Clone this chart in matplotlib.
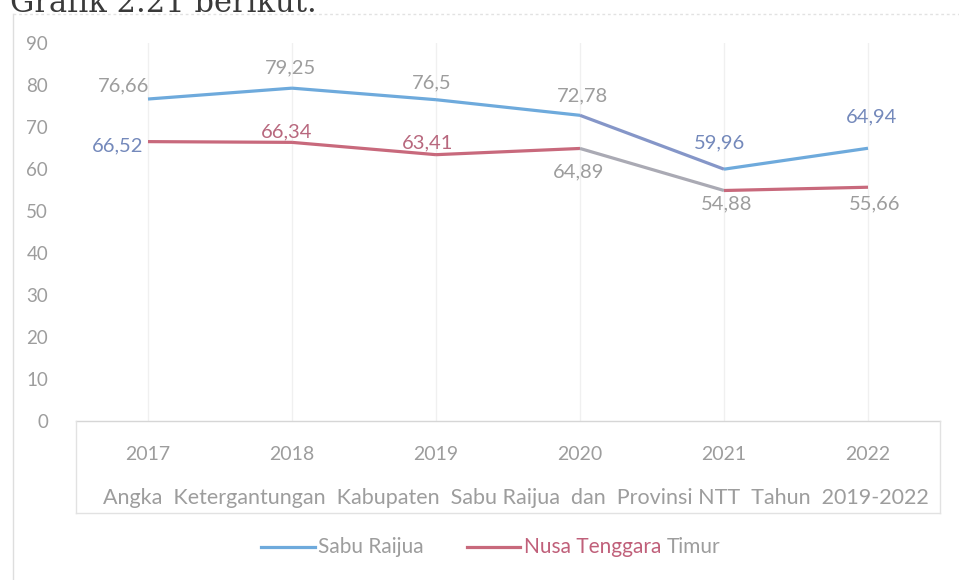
import matplotlib
matplotlib.use("Agg")
import matplotlib.pyplot as plt
from matplotlib.lines import Line2D

# ---- data ----
years = ["2017", "2018", "2019", "2020", "2021", "2022"]
sabu_raijua = [76.66, 79.25, 76.5, 72.78, 59.96, 64.94]
ntt = [66.52, 66.34, 63.41, 64.89, 54.88, 55.66]
yticks = [0, 10, 20, 30, 40, 50, 60, 70, 80, 90]
axis_title = "Angka  Ketergantungan  Kabupaten  Sabu Raijua  dan  Provinsi NTT  Tahun  2019-2022"
series_names = ["Sabu Raijua", "Nusa Tenggara Timur"]

# ---- styling ----
W, H, DPI = 959, 580, 100
FONT = "Lato"
GREY = "#9d9d9d"
BLUE = "#6eaadc"
BLUE_DARK = "#8596c8"
RED = "#c8697c"
GREY_SEG = "#aaaab4"
LBL_BLUE = "#7489bb"
LBL_RED = "#b8687e"

sabu_seg_colors = [BLUE, BLUE, BLUE, BLUE_DARK, BLUE]
ntt_seg_colors = [RED, RED, RED, GREY_SEG, RED]
sabu_lbl_colors = [GREY, GREY, GREY, GREY, LBL_BLUE, LBL_BLUE]
ntt_lbl_colors = [LBL_BLUE, LBL_RED, LBL_RED, GREY, GREY, GREY]
# label offsets (pixels) from each point
sabu_off = [(-24, 13), (-2, 20), (-4, 17), (2, 19), (-4, 26), (4, 31)]
ntt_off = [(-30, -4), (-5, 10), (-8, 12), (-1, -23), (3, -13), (7, -17)]


def fx(px):
    return px / W


def fy(py):
    return 1 - py / H


fig = plt.figure(figsize=(W / DPI, H / DPI), dpi=DPI, facecolor="white")

# plot area
left, right, top, bottom = 76, 940, 43, 421
ax = fig.add_axes([fx(left), fy(bottom), (right - left) / W, (bottom - top) / H])
ax.set_facecolor("none")
x = list(range(len(years)))
ax.set_xlim(-0.5, len(years) - 0.5)
ax.set_ylim(0, 90)

for xi in x:
    ax.axvline(xi, color="#f0f0f0", lw=1, zorder=0)

for vals, cols in ((sabu_raijua, sabu_seg_colors), (ntt, ntt_seg_colors)):
    for i in range(len(vals) - 1):
        ax.plot(x[i:i + 2], vals[i:i + 2], color=cols[i], lw=2.3,
                solid_capstyle="butt", zorder=3)

for vals, offs, cols in ((sabu_raijua, sabu_off, sabu_lbl_colors),
                         (ntt, ntt_off, ntt_lbl_colors)):
    for xi, v, (dx, dy), c in zip(x, vals, offs, cols):
        ax.annotate(f"{v:g}".replace(".", ","), xy=(xi, v),
                    xytext=(dx * 0.72, dy * 0.72), textcoords="offset points",
                    ha="center", va="center", fontsize=14.5, color=c,
                    family=FONT, zorder=4)

ax.set_yticks(yticks)
ax.set_yticklabels([str(t) for t in yticks], family=FONT, fontsize=13.5, color=GREY)
ax.set_xticks(x)
ax.set_xticklabels(years, family=FONT, fontsize=14, color=GREY)
ax.tick_params(axis="y", length=0, pad=20)
ax.tick_params(axis="x", length=0, pad=18)
for s in ("left", "right", "top"):
    ax.spines[s].set_visible(False)
ax.spines["bottom"].set_color("#d6d6d6")
ax.spines["bottom"].set_linewidth(1)

# category axis title row and its box
ax.annotate(axis_title, xy=(0.5, 0), xycoords="axes fraction",
            xytext=(8 * 0.72, -77 * 0.72), textcoords="offset points",
            ha="center", va="center", fontsize=15.5, color=GREY, family=FONT)
box_col = "#e2e2e2"
fig.add_artist(Line2D([fx(left), fx(left)], [fy(bottom), fy(513)], color=box_col, lw=1))
fig.add_artist(Line2D([fx(right), fx(right)], [fy(bottom), fy(513)], color=box_col, lw=1))
fig.add_artist(Line2D([fx(left), fx(right)], [fy(513), fy(513)], color=box_col, lw=1))

# chart frame
fig.add_artist(Line2D([fx(13), fx(13)], [fy(14), fy(580)], color="#dedede", lw=1))
fig.add_artist(Line2D([fx(13), fx(959)], [fy(14), fy(14)], color="#e2e2e2", lw=1,
                      ls=(0, (2, 2))))

# legend
ly = fy(547)
fig.add_artist(Line2D([fx(261), fx(315)], [ly, ly], color=BLUE, lw=2.3))
fig.text(fx(318), ly, series_names[0], ha="left", va="center", fontsize=15,
         color=GREY, family=FONT)
fig.add_artist(Line2D([fx(467), fx(520)], [ly, ly], color=RED, lw=2.3))
first, last = series_names[1].rsplit(" ", 1)
t1 = fig.text(fx(524), ly, first + " ", ha="left", va="center", fontsize=15,
              color="#c0607a", family=FONT)
renderer = fig.canvas.get_renderer()
bb = t1.get_window_extent(renderer=renderer)
fig.text(bb.x1 / W, ly, last, ha="left", va="center", fontsize=15,
         color=GREY, family=FONT)

# running text of the page above the chart
fig.text(fx(10), fy(12), "Grafik 2.21 berikut.", ha="left", va="baseline",
         fontsize=22, color="#3a3a3a", family="DejaVu Serif")

fig.savefig("out.png", dpi=DPI, facecolor="white")
